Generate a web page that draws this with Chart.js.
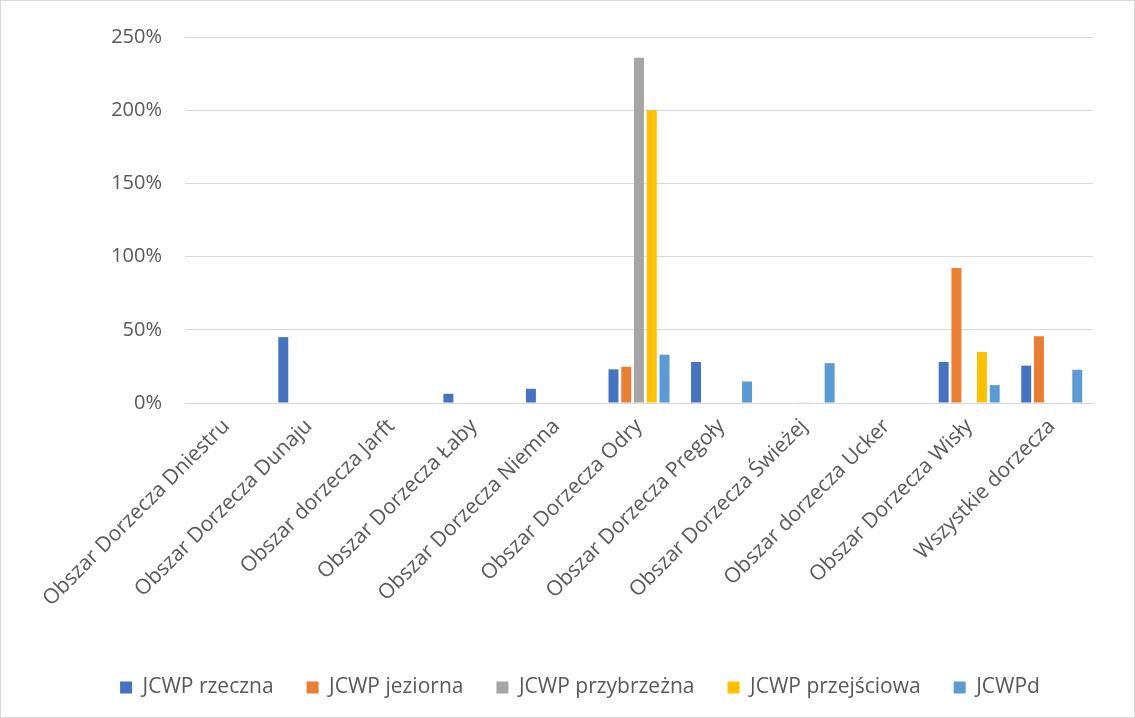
<!DOCTYPE html>
<html lang="pl">
<head>
<meta charset="UTF-8">
<title>JCWP</title>
<script src="https://cdn.jsdelivr.net/npm/chart.js"></script>
<style>
    body { margin: 0; background: #fff; }
    #wrap { width: 1135px; height: 718px; position: relative; }
</style>
</head>
<body>
<div id="wrap"><canvas id="chart"></canvas></div>
<script>
const categories = [
    'Obszar Dorzecza Dniestru', 'Obszar Dorzecza Dunaju', 'Obszar dorzecza Jarft',
    'Obszar Dorzecza Łaby', 'Obszar Dorzecza Niemna', 'Obszar Dorzecza Odry',
    'Obszar Dorzecza Pregoły', 'Obszar Dorzecza Świeżej', 'Obszar dorzecza Ucker',
    'Obszar Dorzecza Wisły', 'Wszystkie dorzecza'
];
const rzeczna     = [null, 45, null, 6.3, 9.7, 23, 28, null, null, 28, 25.5];
const jeziorna    = [null, null, null, null, null, 24.8, null, null, null, 92.2, 45.6];
const przybrzezna = [null, null, null, null, null, 235.8, null, 0.5, null, null, null];
const przejsciowa = [null, null, null, null, null, 200, null, null, null, 34.9, null];
const jcwpd       = [null, null, null, null, null, 33, 14.7, 27.2, null, 12.2, 22.7];

const txt = '#595959';
const fontFamily = '"Open Sans", sans-serif';

// thin frame round the whole picture
const frame = {
    id: 'frame',
    afterDraw(chart) {
        const c = chart.ctx;
        c.save();
        c.strokeStyle = '#d9d9d9';
        c.lineWidth = 1;
        c.strokeRect(0.5, 0.5, chart.width - 1, chart.height - 1);
        c.restore();
    }
};

function ds(label, data, color) {
    return { label, data, backgroundColor: color, borderWidth: 0,
             barPercentage: 0.78, categoryPercentage: 0.773 };
}

new Chart(document.getElementById('chart'), {
    type: 'bar',
    data: {
        labels: categories,
        datasets: [
            ds('JCWP rzeczna', rzeczna, '#4472C4'),
            ds('JCWP jeziorna', jeziorna, '#ED7D31'),
            ds('JCWP przybrzeżna', przybrzezna, '#A5A5A5'),
            ds('JCWP przejściowa', przejsciowa, '#FFC000'),
            ds('JCWPd', jcwpd, '#5B9BD5')
        ]
    },
    options: {
        responsive: true,
        maintainAspectRatio: false,
        animation: false,
        layout: { padding: { top: 37, right: 42, bottom: 10, left: 67 } },
        plugins: {
            tooltip: { enabled: false },
            legend: {
                position: 'bottom',
                labels: {
                    color: txt,
                    font: { family: fontFamily, size: 21 },
                    boxWidth: 12, boxHeight: 12,
                    padding: 33
                }
            }
        },
        scales: {
            x: {
                grid: { display: false, drawTicks: false },
                border: { color: '#d9d9d9', width: 1 },
                ticks: {
                    color: txt,
                    font: { family: fontFamily, size: 21 },
                    minRotation: 45, maxRotation: 45,
                    padding: 11
                },
                afterFit(scale) { scale.height = 241; }
            },
            y: {
                min: 0, max: 250,
                grid: { color: '#d9d9d9', drawTicks: false },
                border: { display: false },
                ticks: {
                    stepSize: 50,
                    color: txt,
                    font: { family: fontFamily, size: 20 },
                    padding: 23,
                    callback: v => v + '%'
                },
                afterFit(scale) { scale.width = 118; }
            }
        }
    },
    plugins: [frame]
});
</script>
</body>
</html>
